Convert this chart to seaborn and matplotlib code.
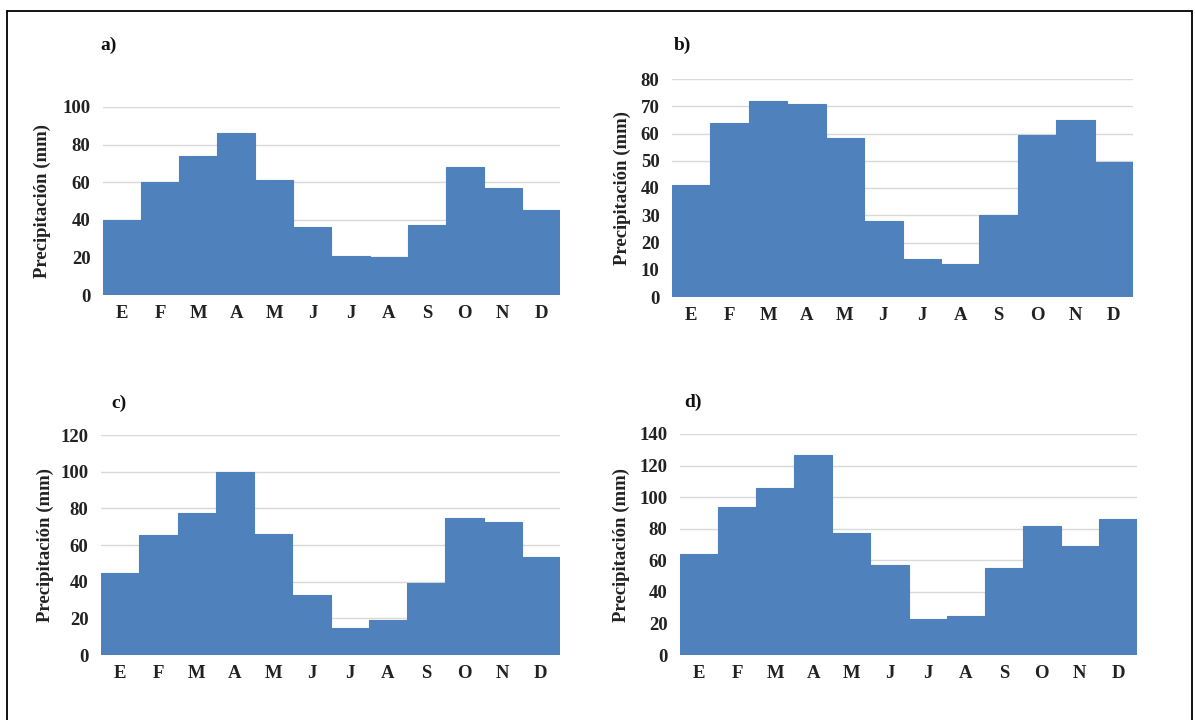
import matplotlib
matplotlib.use("Agg")
import matplotlib.pyplot as plt
import seaborn as sns
import pandas as pd
from matplotlib.lines import Line2D

months = ["E", "F", "M", "A", "M", "J", "J", "A", "S", "O", "N", "D"]
precip_a = [40, 60, 74, 86, 61, 36, 21, 20, 37, 68, 57, 45]
precip_b = [41, 64, 72, 71, 58.5, 28, 14, 12, 30, 59.5, 65, 49.5]
precip_c = [44.5, 65.5, 77.5, 100, 66, 33, 14.5, 19, 39.5, 75, 72.5, 53.5]
precip_d = [64, 93.5, 106, 127, 77, 57, 23, 24.5, 55, 81.5, 69, 86]
panel_labels = ["a)", "b)", "c)", "d)"]
y_max = [100, 80, 120, 140]
y_step = [20, 10, 20, 20]

sns.set_theme(style="white")
plt.rcParams["font.family"] = ["Liberation Serif", "DejaVu Serif"]

W, H = 1195, 720
fig = plt.figure(figsize=(W / 100, H / 100), dpi=100)
fig.patch.set_facecolor("white")

def fx(px):
    return px / W

def fy(py):
    return 1 - py / H

# axes boxes in pixels: left, right, top, bottom
boxes = [
    (103, 560, 107, 295),
    (672, 1133, 79, 297),
    (101, 560, 435, 655),
    (680, 1137, 434, 655),
]
label_pos = [(100, 45), (674, 45), (111, 403), (684, 402)]
ylabel_x = [42, 622, 45, 621]

bar_color = "#4f81bd"
series = [precip_a, precip_b, precip_c, precip_d]

for i, vals in enumerate(series):
    l, r, t, b = boxes[i]
    ax = fig.add_axes([fx(l), fy(b), fx(r - l), (b - t) / H])
    df = pd.DataFrame({"pos": list(range(12)), "val": vals})
    sns.barplot(data=df, x="pos", y="val", ax=ax, color=bar_color,
                width=1.0, saturation=1, linewidth=0.8,
                edgecolor=bar_color, zorder=3)
    ax.set_xlim(-0.5, 11.5)
    ax.set_ylim(0, y_max[i])
    ax.set_yticks(list(range(0, y_max[i] + 1, y_step[i])))
    ax.set_xticks(range(12))
    ax.set_xticklabels(months)
    ax.yaxis.grid(True, color="#d9d9d9", linewidth=1.0, zorder=0)
    ax.xaxis.grid(False)
    ax.set_axisbelow(True)
    for s in ax.spines.values():
        s.set_visible(False)
    ax.tick_params(axis="both", length=0, labelsize=13.5, colors="#222222")
    ax.tick_params(axis="y", pad=9)
    ax.tick_params(axis="x", pad=7)
    for lab in ax.get_xticklabels() + ax.get_yticklabels():
        lab.set_fontweight("bold")
    ax.set_xlabel("")
    ax.set_ylabel("")
    cy = (t + b) / 2
    fig.text(fx(ylabel_x[i]), fy(cy), "Precipitación (mm)", rotation=90,
             ha="center", va="center", fontsize=13.5, fontweight="bold",
             color="#222222")
    px, py = label_pos[i]
    fig.text(fx(px), fy(py), panel_labels[i], ha="left", va="center",
             fontsize=14, fontweight="bold", color="#111111")

# outer frame (left, top, right)
frame_kw = dict(color="black", linewidth=1.3, transform=fig.transFigure)
fig.add_artist(Line2D([fx(7), fx(7)], [fy(11), 0], **frame_kw))
fig.add_artist(Line2D([fx(7), fx(1192)], [fy(11), fy(11)], **frame_kw))
fig.add_artist(Line2D([fx(1192), fx(1192)], [fy(11), 0], **frame_kw))

fig.savefig("out.png", dpi=100)
